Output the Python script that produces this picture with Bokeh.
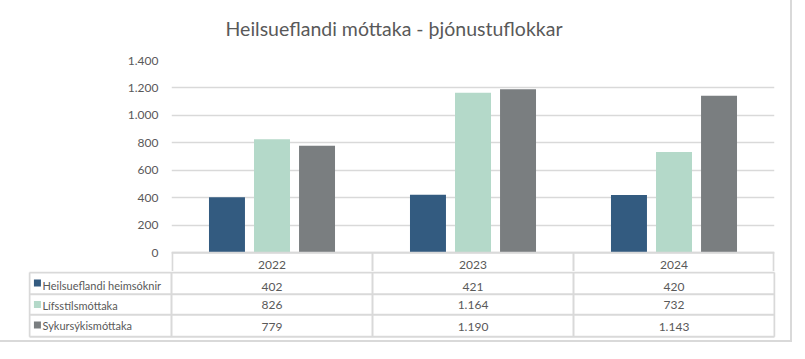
from bokeh.plotting import figure
from bokeh.models import Range1d, FactorRange, ColumnDataSource, CustomJSTickFormatter, FixedTicker
from bokeh.layouts import column
from bokeh.transform import dodge
from bokeh.core.properties import value
from bokeh.embed import file_html
from bokeh.resources import INLINE

# ---- data ----
title = "Heilsueflandi móttaka - þjónustuflokkar"
years = ["2022", "2023", "2024"]
series_names = ["Heilsueflandi heimsóknir", "Lífsstílsmóttaka", "Sykursýkismóttaka"]
heimsoknir = [402, 421, 420]
lifsstils = [826, 1164, 732]
sykursykis = [779, 1190, 1143]
colors = ["#335B80", "#B4D9C9", "#7A7E80"]
y_ticks = [0, 200, 400, 600, 800, 1000, 1200, 1400]

W = 793
FONT = "Lato"
TXT = "#595959"
GRID = "#D9D9D9"
UPX = 1400 / 192  # value units per pixel in the bar panel


def fmt(v):
    return f"{v:,}".replace(",", ".")


common = dict(output_backend="svg", toolbar_location=None)

# ---- title ----
tf = figure(width=W, height=50, x_range=Range1d(0, 1), y_range=Range1d(50, 0),
            min_border=0, x_axis_location=None, y_axis_location=None, **common)
tf.frame_align = False
tf.grid.visible = False
tf.outline_line_color = None
tf.text(x=[0.5], y=[29], text=[title], text_font=value(FONT), text_font_size="19.5px",
        text_color=TXT, text_align="center", text_baseline="middle")

# ---- bars (+ table header row below zero) ----
series = [heimsoknir, lifsstils, sykursykis]
src = ColumnDataSource(dict(year=years, s0=heimsoknir, s1=lifsstils, s2=sykursykis))
bf = figure(width=W, height=222, x_range=FactorRange(*years),
            y_range=Range1d(-19 * UPX, 1400),
            min_border_left=174, min_border_right=16, min_border_top=11, min_border_bottom=0,
            x_axis_location=None, **common)
bf.frame_align = False
offsets = [-0.224, 0.0, 0.224]
for i, off in enumerate(offsets):
    bf.vbar(x=dodge("year", off, range=bf.x_range), top=f"s{i}", width=0.179,
            source=src, color=colors[i], line_color=None)
bf.xgrid.visible = False
bf.ygrid.grid_line_color = GRID
bf.ygrid.grid_line_width = 1.5
bf.yaxis.ticker = FixedTicker(ticks=y_ticks)
bf.yaxis.formatter = CustomJSTickFormatter(
    code='return tick.toString().replace(/\\B(?=(\\d{3})+(?!\\d))/g, ".");')
bf.yaxis.axis_line_color = None
bf.yaxis.major_tick_line_color = None
bf.yaxis.major_tick_out = 0
bf.yaxis.major_tick_in = 0
bf.yaxis.minor_tick_line_color = None
bf.yaxis.major_label_standoff = 13
bf.yaxis.major_label_text_font = FONT
bf.yaxis.major_label_text_font_size = "12px"
bf.yaxis.major_label_text_color = TXT
bf.outline_line_color = None

# header row of the data table
bf.segment(x0=[0], y0=[-0.2 * UPX], x1=[3], y1=[-0.2 * UPX], line_color=GRID, line_width=2)
bf.segment(x0=[0.004, 1, 2, 2.996], y0=[0] * 4, x1=[0.004, 1, 2, 2.996], y1=[-19 * UPX] * 4,
           line_color=GRID, line_width=2)
bf.text(x=[i + 0.5 for i in range(3)], y=[-12 * UPX] * 3, text=years, text_font=value(FONT),
        text_font_size="12px", text_color=TXT, text_align="center", text_baseline="middle")

# ---- data table rows ----
PX = 1 / 201
L = 142 / 201
tb = figure(width=W, height=69, x_range=Range1d(-L - PX, 3 + PX), y_range=Range1d(69, 0),
            min_border_left=31, min_border_right=15, min_border_top=0, min_border_bottom=0,
            x_axis_location=None, y_axis_location=None, **common)
tb.frame_align = False
tb.grid.visible = False
tb.outline_line_color = None

row_lines = [1, 22.7, 43.3, 65.3]
tb.segment(x0=[-L] * len(row_lines), y0=row_lines, x1=[3] * len(row_lines), y1=row_lines,
           line_color=GRID, line_width=2)
tb.segment(x0=[-L, 0, 1, 2, 3], y0=[1] * 5, x1=[-L, 0, 1, 2, 3], y1=[65.3] * 5,
           line_color=GRID, line_width=2)

xc = [i + 0.5 for i in range(len(years))]
val_y = [15, 33.5, 55]
lab_y = [13.5, 33.5, 54]
sq_y = [11.5, 33, 53.5]
for r, vals in enumerate(series):
    tb.text(x=xc, y=[val_y[r]] * 3, text=[fmt(v) for v in vals], text_font=value(FONT),
            text_font_size="12px", text_color=TXT, text_align="center", text_baseline="middle")
    tb.scatter(x=[-0.667], y=[sq_y[r]], marker="square", size=7, color=colors[r], line_color=None)
    tb.text(x=[-0.642], y=[lab_y[r]], text=[series_names[r]], text_font=value(FONT),
            text_font_size="11px", text_color=TXT, text_align="left", text_baseline="middle")

layout = column(tf, bf, tb, width=W + 4, height=341 + 4,
                styles={"border": "2px solid #D9D9D9", "margin": "-3px 0 0 -5px"})

open("out.html", "w").write(file_html(layout, INLINE))
